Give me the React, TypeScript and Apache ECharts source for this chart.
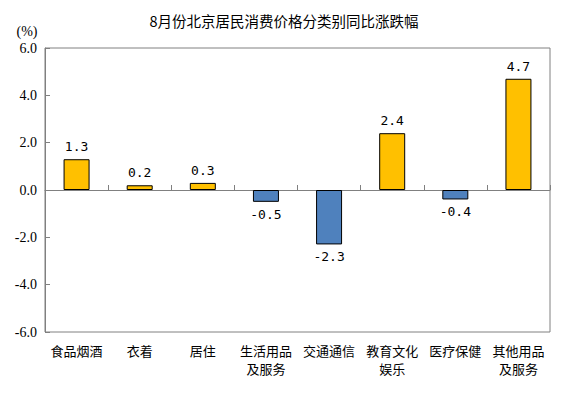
import React, { useEffect, useRef } from "react";
import * as echarts from "echarts";

const categories = ["食品烟酒", "衣着", "居住", "生活用品\n及服务", "交通通信", "教育文化\n娱乐", "医疗保健", "其他用品\n及服务"];
const values = [1.3, 0.2, 0.3, -0.5, -2.3, 2.4, -0.4, 4.7];
const yTicks = { min: -6, max: 6, interval: 2 };
const titleText = "8月份北京居民消费价格分类别同比涨跌幅";
const unitText = "(%)";

export default function App() {
  const ref = useRef<HTMLDivElement>(null);
  useEffect(() => {
    if (!ref.current) return;
    const chart = echarts.init(ref.current, null, { renderer: "svg" });
    const gray = "#808080";
    const serif = "'Liberation Serif', 'Times New Roman', serif";
    chart.setOption({
      animation: false,
      backgroundColor: "#ffffff",
      grid: { left: 45, right: 30, top: 48, bottom: 63, show: true, borderColor: gray, borderWidth: 1, backgroundColor: "transparent" },
      graphic: [
        { type: "text", x: 284, y: 20, style: { text: titleText, fontSize: 14.5, fontFamily: "Noto Sans CJK SC", fill: "#000", textAlign: "center", textVerticalAlign: "middle" } },
        { type: "text", x: 27, y: 31, style: { text: unitText, fontSize: 14, fontFamily: serif, fill: "#000", textAlign: "center", textVerticalAlign: "middle" } },
      ],
      xAxis: [
        {
          type: "category",
          data: categories,
          axisLine: { onZero: true, lineStyle: { color: gray, width: 1 } },
          axisTick: { show: true, inside: true, length: 5, lineStyle: { color: gray } },
          axisLabel: { show: false },
          splitLine: { show: false },
        },
        {
          type: "category",
          data: categories,
          position: "bottom",
          axisLine: { show: false, onZero: false },
          axisTick: { show: false },
          axisLabel: { show: true, margin: 9, fontSize: 13, lineHeight: 18, color: "#000", fontFamily: "Noto Sans CJK SC", interval: 0, align: "center" },
          splitLine: { show: false },
        },
      ],
      yAxis: {
        type: "value",
        min: yTicks.min,
        max: yTicks.max,
        interval: yTicks.interval,
        axisLine: { show: true, lineStyle: { color: gray } },
        axisTick: { show: true, inside: true, length: 5, lineStyle: { color: gray } },
        splitLine: { show: false },
        axisLabel: { margin: 8, fontSize: 14, color: "#000", fontFamily: serif, formatter: (v: number) => v.toFixed(1) },
      },
      series: [
        {
          type: "bar",
          xAxisIndex: 0,
          barWidth: 26,
          data: values.map((v) => ({
            value: v,
            itemStyle: { color: v >= 0 ? "#FFC000" : "#4F81BD", borderColor: "#000", borderWidth: 1 },
            label: { show: true, position: v >= 0 ? "top" : "bottom", distance: 6 },
          })),
          label: {
            show: true,
            fontSize: 13,
            color: "#000",
            fontFamily: "DejaVu Sans Mono",
            formatter: (p: any) => Number(p.value).toFixed(1),
          },
        },
      ],
    });
    return () => chart.dispose();
  }, []);
  return <div ref={ref} style={{ position: "fixed", left: 0, top: 0, width: 580, height: 395 }} />;
}
